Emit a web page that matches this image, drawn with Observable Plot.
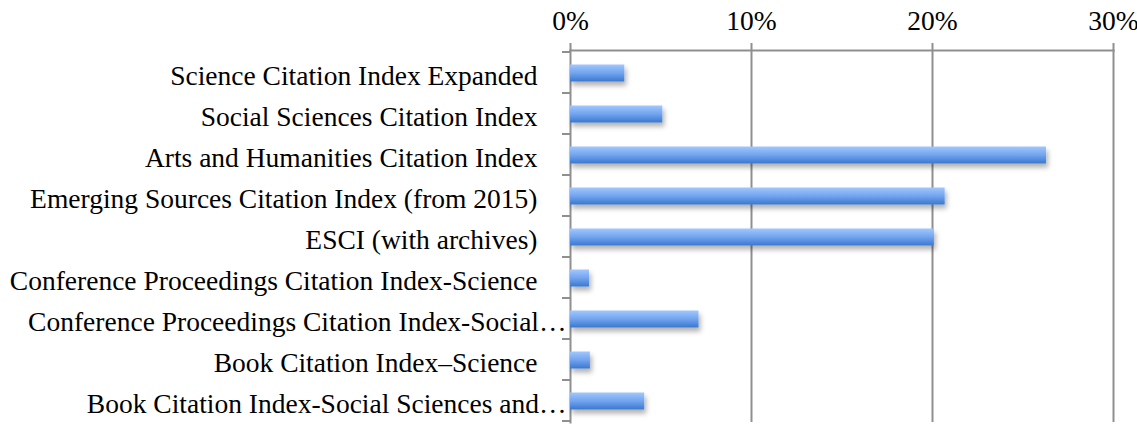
<!DOCTYPE html>
<html><head><meta charset="utf-8">
<script src="https://cdn.jsdelivr.net/npm/d3@7"></script>
<script src="https://cdn.jsdelivr.net/npm/@observablehq/plot@0.6"></script>
<style>body{margin:0;background:#fff}</style>
</head><body><div id="chart"></div>
<script>
const categories = [
  "Science Citation Index Expanded",
  "Social Sciences Citation Index",
  "Arts and Humanities Citation Index",
  "Emerging Sources Citation Index (from 2015)",
  "ESCI (with archives)",
  "Conference Proceedings Citation Index-Science",
  "Conference Proceedings Citation Index-Social…",
  "Book Citation Index–Science",
  "Book Citation Index-Social Sciences and…"
];
const shares = [3.0, 5.1, 26.3, 20.7, 20.1, 1.05, 7.1, 1.1, 4.1];
const xTicks = [0, 10, 20, 30];

const data = categories.map((c, i) => ({category: c, share: shares[i]}));
const isCut = d => d.category.endsWith("…");
const grey = "#8f8f8f";

const plot = Plot.plot({
  width: 1137, height: 429,
  marginLeft: 570, marginRight: 24, marginTop: 50, marginBottom: 7,
  style: {fontFamily: "'Liberation Serif', serif", fontSize: "27.5px", color: "#000", background: "#fff"},
  x: {domain: [0, 30], label: null},
  y: {domain: categories, padding: 0, axis: null},
  marks: [
    Plot.gridX(xTicks.slice(1), {stroke: grey, strokeOpacity: 1, strokeWidth: 2}),
    Plot.axisX(xTicks, {anchor: "top", label: null, tickSize: 8, tickPadding: 13, tickFormat: d => d + "%", stroke: grey, strokeWidth: 2, fill: "#000"}),
    Plot.frame({anchor: "top", stroke: grey, strokeWidth: 2}),
    Plot.frame({anchor: "left", stroke: grey, strokeWidth: 2}),
    Plot.barX(data, {y: "category", x: "share", fill: "url(#barGrad)", insetTop: 12.5, insetBottom: 11.5}),
    Plot.text(data.filter(d => !isCut(d)), {y: "category", frameAnchor: "left", textAnchor: "end", dx: -33, dy: 3, text: "category", fill: "#000"}),
    Plot.text(data.filter(isCut), {y: "category", frameAnchor: "left", textAnchor: "end", dx: -4, dy: 3, text: "category", fill: "#000"})
  ]
});

const svg = d3.select(plot);
const defs = svg.insert("defs", ":first-child");
const g = defs.append("linearGradient").attr("id", "barGrad").attr("x1", 0).attr("y1", 0).attr("x2", 0).attr("y2", 1);
g.append("stop").attr("offset", "0%").attr("stop-color", "#a2c7fd");
g.append("stop").attr("offset", "50%").attr("stop-color", "#72a4ef");
g.append("stop").attr("offset", "100%").attr("stop-color", "#3a78cf");
const f = defs.append("filter").attr("id", "barShadow").attr("x", "-10%").attr("y", "-30%").attr("width", "130%").attr("height", "190%");
f.append("feDropShadow").attr("dx", 2).attr("dy", 4).attr("stdDeviation", 2.5).attr("flood-color", "#000").attr("flood-opacity", 0.3);
svg.selectAll('g[aria-label="bar"]').attr("filter", "url(#barShadow)");

// category boundary ticks on the y axis
const ys = plot.scale("y"), xs = plot.scale("x");
const x0 = xs.apply(0);
const bounds = categories.map(c => ys.apply(c)).concat([ys.apply(categories[categories.length - 1]) + ys.bandwidth]);
svg.append("g").selectAll("line").data(bounds).join("line")
  .attr("x1", x0 - 8).attr("x2", x0).attr("y1", d => d).attr("y2", d => d)
  .attr("stroke", grey).attr("stroke-width", 2);

document.getElementById("chart").appendChild(plot);
</script>
</body></html>
